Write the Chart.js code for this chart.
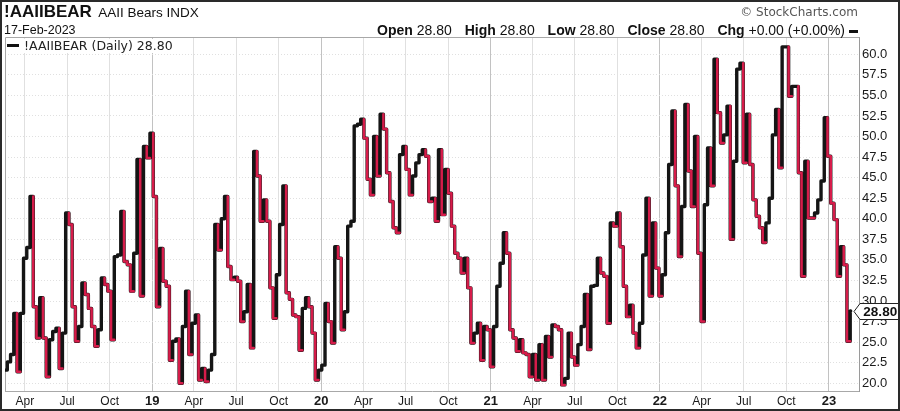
<!DOCTYPE html>
<html>
<head>
<meta charset="utf-8">
<title>!AAIIBEAR</title>
<script src="https://cdn.jsdelivr.net/npm/chart.js@4.4.1/dist/chart.umd.min.js"></script>
<style>
  html, body { margin: 0; padding: 0; background: #fff; }
  #wrap { position: relative; width: 900px; height: 411px; overflow: hidden; background: #fff; }
  #wrap canvas { position: absolute; left: 0; top: 0; }
  .frame { position: absolute; left: 0; top: 0; width: 900px; height: 411px; box-sizing: border-box; border: 2px solid #2a2a2a; pointer-events: none; }
  .txt { position: absolute; white-space: nowrap; color: #111; font-family: 'Liberation Sans', Arial, sans-serif; }
  #title { left: 4px; top: 2px; line-height: 20px; }
  #title b { font-size: 17px; }
  #title span { font-size: 13.5px; margin-left: 2px; }
  #date { left: 4px; top: 23px; font-size: 12.5px; line-height: 15px; }
  #copy { right: 42px; top: 5px; font-family: 'DejaVu Sans', sans-serif; font-size: 12px; color: #555; line-height: 15px; }
  #quote { right: 42px; top: 22px; font-size: 14px; line-height: 17px; }
  #quote b { margin-left: 9px; }
  #quote b:first-child { margin-left: 0; }
  #quote .dash, #legend .dash { display: inline-block; width: 9px; height: 3px; background: #111; vertical-align: middle; margin-left: 4px; }
  #legend { left: 6px; top: 39px; height: 14px; padding: 0 3px 0 1px; background: #fff; font-family: 'DejaVu Sans', sans-serif; font-size: 12.5px; line-height: 14px; color: #222; }
  #legend .dash { width: 12px; margin: 0 5px 0 0; vertical-align: 3px; }
</style>
</head>
<body>
<div id="wrap">
  <canvas id="chart" width="900" height="411"></canvas>
  <div class="txt" id="title"><b>!AAIIBEAR</b> <span>AAII Bears INDX</span></div>
  <div class="txt" id="date"></div>
  <div class="txt" id="copy">&copy; StockCharts.com</div>
  <div class="txt" id="quote"></div>
  <div class="txt" id="legend"></div>
  <div class="frame"></div>
</div>
<script>
// weekly AAII bearish readings (%), first release 2018-02-15, one per Thursday
const firstRelease = '2018-02-15';
const lastDate = '2023-02-17';
const bears = [
  21.6, 22.6, 23.5, 28.5, 21.4, 28.5, 35.2, 36.5, 42.7, 29.3,
  25.5, 30.4, 25.5, 20.8, 25.3, 26.3, 26.7, 21.8, 26.1, 40.7,
  39.3, 29.3, 25.1, 26.9, 32.2, 30.8, 29.1, 26.9, 24.5, 26.5,
  32.8, 32.0, 31.2, 25.3, 35.4, 35.6, 40.9, 34.8, 34.4, 31.2,
  35.8, 47.2, 30.6, 48.8, 47.4, 50.4, 42.7, 29.3, 36.4, 32.4,
  31.8, 22.8, 25.1, 25.4, 20.0, 26.9, 31.2, 23.5, 27.3, 28.3,
  20.4, 21.8, 20.2, 21.6, 23.5, 39.3, 36.2, 40.0, 42.7, 34.2,
  32.6, 32.9, 32.4, 27.5, 28.7, 32.0, 24.3, 48.2, 45.2, 39.7,
  42.3, 39.7, 31.6, 27.9, 33.2, 39.3, 44.0, 31.0, 30.2, 28.3,
  28.1, 24.0, 29.1, 30.4, 29.3, 26.1, 20.4, 21.6, 22.2, 29.7,
  27.5, 24.9, 36.6, 35.2, 26.5, 28.7, 39.1, 39.7, 51.3, 51.5,
  52.1, 49.8, 44.8, 42.9, 50.0, 45.2, 52.7, 50.9, 45.6, 42.1,
  38.9, 38.3, 47.8, 48.8, 46.0, 42.9, 45.2, 46.8, 47.8, 48.4,
  47.6, 42.1, 42.5, 39.7, 48.4, 40.5, 46.0, 43.1, 39.1, 35.8,
  35.2, 33.4, 35.2, 31.6, 24.9, 26.1, 27.3, 22.8, 26.9, 26.5,
  22.0, 26.9, 31.8, 34.6, 38.3, 35.8, 26.5, 25.5, 23.9, 25.3,
  23.7, 23.5, 20.8, 23.5, 20.4, 24.7, 20.4, 25.7, 23.2, 27.1,
  26.9, 26.5, 19.8, 20.6, 26.1, 23.2, 22.2, 24.7, 26.9, 30.8,
  24.1, 31.8, 31.9, 35.2, 33.4, 33.0, 27.3, 39.5, 39.1, 40.7,
  36.6, 31.8, 28.1, 29.5, 26.1, 24.3, 27.3, 35.6, 42.5, 30.6,
  39.5, 34.0, 30.6, 33.2, 38.3, 46.6, 53.1, 44.0, 35.4, 41.5,
  53.9, 45.8, 41.5, 50.0, 35.8, 27.5, 41.7, 48.6, 44.0, 59.4,
  52.9, 49.2, 50.2, 53.7, 37.5, 47.0, 58.2, 58.9, 46.8, 52.7,
  46.6, 42.3, 40.3, 38.9, 37.1, 39.5, 42.5, 50.2, 53.3, 46.2,
  60.9, 60.9, 54.9, 56.1, 56.1, 45.6, 33.0, 47.0, 40.1, 40.1,
  40.7, 42.3, 44.6, 52.3, 47.6, 41.9, 39.9, 33.0, 36.6, 34.4,
  25.1, 28.8
];

const quarterTicks = [
  '2018-04-01', '2018-07-01', '2018-10-01',
  '2019-01-01', '2019-04-01', '2019-07-01', '2019-10-01',
  '2020-01-01', '2020-04-01', '2020-07-01', '2020-10-01',
  '2021-01-01', '2021-04-01', '2021-07-01', '2021-10-01',
  '2022-01-01', '2022-04-01', '2022-07-01', '2022-10-01',
  '2023-01-01'
];
const quarterLabels = [
  'Apr', 'Jul', 'Oct',
  '19', 'Apr', 'Jul', 'Oct',
  '20', 'Apr', 'Jul', 'Oct',
  '21', 'Apr', 'Jul', 'Oct',
  '22', 'Apr', 'Jul', 'Oct',
  '23'
];
const yTicks = [20, 22.5, 25, 27.5, 30, 32.5, 35, 37.5, 40, 42.5, 45, 47.5, 50, 52.5, 55, 57.5, 60];

const FONT = "'Liberation Sans', Arial, sans-serif";
const UP = '#151515';
const DOWN = '#d61c4a';

// days since 2018-01-01
const dayOf = s => (Date.parse(s) - Date.parse('2018-01-01')) / 86400000;
const isYear = i => /^\d+$/.test(quarterLabels[i] || '');

// each week's value is held until the next release; point sits at the end of its week
const t0 = dayOf(firstRelease);
const pts = [{ x: t0, y: bears[0] }];
bears.forEach((v, k) => {
  pts.push({ x: k < bears.length - 1 ? t0 + 7 * (k + 1) : dayOf(lastDate), y: v });
});
const dir = pts.map(() => 'up');
for (let i = 1; i < pts.length; i++) {
  dir[i] = pts[i].y > pts[i - 1].y ? 'up' : pts[i].y < pts[i - 1].y ? 'down' : dir[i - 1];
}

const last = bears[bears.length - 1].toFixed(2);
const [yy, mm, dd] = lastDate.split('-');
const months = ['Jan','Feb','Mar','Apr','May','Jun','Jul','Aug','Sep','Oct','Nov','Dec'];
document.getElementById('date').textContent = dd + '-' + months[+mm - 1] + '-' + yy;
document.getElementById('quote').innerHTML =
  '<b>Open</b> ' + last + ' <b>High</b> ' + last + ' <b>Low</b> ' + last +
  ' <b>Close</b> ' + last + ' <b>Chg</b> +0.00 (+0.00%)<span class="dash"></span>';
document.getElementById('legend').innerHTML =
  '<span class="dash"></span>!AAIIBEAR (Daily) ' + last;

const framePlugin = {
  id: 'frame',
  beforeDatasetsDraw(chart) {
    const { ctx, chartArea: a } = chart;
    ctx.save();
    ctx.strokeStyle = '#a8a8a8';
    ctx.lineWidth = 1;
    ctx.beginPath();
    ctx.moveTo(a.left + 0.5, a.bottom);
    ctx.lineTo(a.left + 0.5, a.top + 0.5);
    ctx.lineTo(a.right, a.top + 0.5);
    ctx.stroke();
    ctx.restore();
  },
  afterDraw(chart) {
    const { ctx, chartArea: a } = chart;
    const y = Math.round(chart.scales.y.getPixelForValue(bears[bears.length - 1])) + 0.5;
    const x0 = a.right - 5, x1 = a.right + 39.5;
    ctx.save();
    ctx.beginPath();
    ctx.moveTo(x0, y);
    ctx.lineTo(x0 + 6, y - 8);
    ctx.lineTo(x1, y - 8);
    ctx.lineTo(x1, y + 8);
    ctx.lineTo(x0 + 6, y + 8);
    ctx.closePath();
    ctx.fillStyle = '#fff';
    ctx.fill();
    ctx.strokeStyle = '#222';
    ctx.lineWidth = 1;
    ctx.stroke();
    ctx.fillStyle = '#111';
    ctx.font = 'bold 13.5px ' + FONT;
    ctx.textAlign = 'center';
    ctx.textBaseline = 'middle';
    ctx.fillText(last, (x0 + 6 + x1) / 2 + 1, y + 1);
    ctx.restore();
  }
};

new Chart(document.getElementById('chart'), {
  type: 'line',
  data: {
    datasets: [
      {
        data: pts,
        stepped: 'after',
        borderColor: DOWN,
        borderWidth: 2.5,
        pointRadius: 0,
        borderJoinStyle: 'round',
        borderCapStyle: 'round',
        order: 1,
        segment: {
          borderColor: c => dir[c.p1DataIndex] === 'down' ? DOWN : 'rgba(0,0,0,0)'
        }
      },
      {
        data: pts,
        stepped: 'after',
        borderColor: UP,
        borderWidth: 3.4,
        pointRadius: 0,
        borderJoinStyle: 'round',
        borderCapStyle: 'round',
        order: 2
      }
    ]
  },
  options: {
    responsive: false,
    animation: false,
    devicePixelRatio: 1,
    layout: { padding: { top: 37, left: 5, right: 0, bottom: 0 } },
    plugins: { legend: { display: false }, tooltip: { enabled: false } },
    scales: {
      x: {
        type: 'linear',
        min: dayOf('2018-02-17'),
        max: dayOf('2023-03-07'),
        afterBuildTicks: s => { s.ticks = quarterTicks.map(d => ({ value: dayOf(d) })); },
        afterFit: s => { s.height = 20; },
        ticks: {
          autoSkip: false,
          maxRotation: 0,
          padding: 3,
          color: '#1a1a1a',
          font: c => ({ family: FONT, size: isYear(c.index) ? 13 : 12, weight: isYear(c.index) ? 'bold' : 'normal' }),
          callback: (v, i) => quarterLabels[i]
        },
        grid: {
          drawTicks: false,
          color: c => isYear(c.index) ? '#c2c2c2' : '#e0e0e0'
        },
        border: { display: true, color: '#a8a8a8' }
      },
      y: {
        position: 'right',
        min: 19.06,
        max: 62.1,
        afterBuildTicks: s => { s.ticks = yTicks.map(v => ({ value: v })); },
        afterFit: s => { s.width = 41; },
        ticks: {
          padding: 3,
          color: '#1a1a1a',
          font: { family: FONT, size: 13 },
          callback: v => v.toFixed(1)
        },
        grid: { drawTicks: false, color: '#e0e0e0' },
        border: { display: true, color: '#9a9a9a', dash: [1, 2] }
      }
    }
  },
  plugins: [framePlugin]
});
</script>
</body>
</html>
